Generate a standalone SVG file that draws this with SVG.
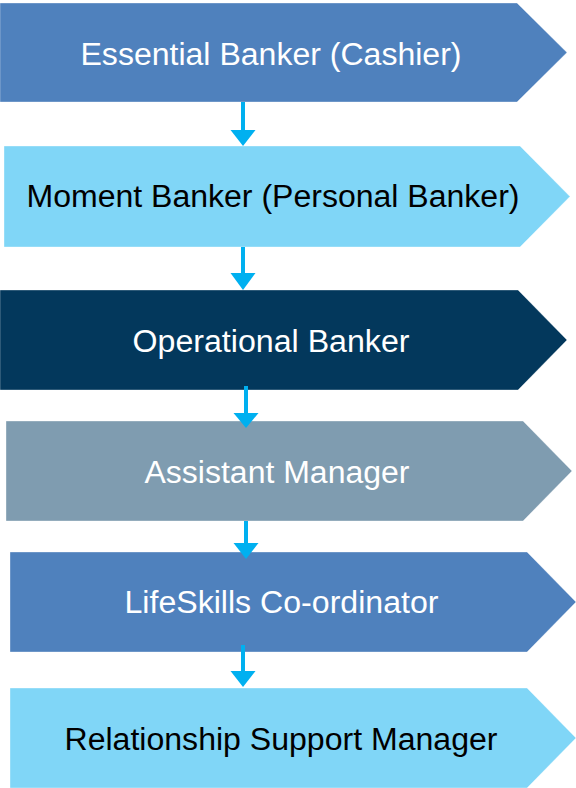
<svg xmlns="http://www.w3.org/2000/svg" width="576" height="788" viewBox="0 0 576 788">
<style>
.shape{stroke:#ffffff;stroke-opacity:0.35;stroke-width:1}
.blue{fill:#4F81BD}
.light{fill:#80D6F7}
.navy{fill:#03385C}
.grey{fill:#7F9CB0}
.lbl{font-family:"Liberation Sans",Arial,sans-serif;font-size:31px;text-anchor:middle}
.w{fill:#ffffff}
.k{fill:#000000}
.conn line{stroke:#00B0F0;stroke-width:4}
.conn polygon{fill:#00B0F0}
</style>
<rect width="576" height="788" fill="#ffffff"/>
<g id="node-essential-banker">
<polygon class="shape blue" points="0,3 517,3 567,52.5 517,102 0,102"/>
<text class="lbl w" x="271" y="65" textLength="381" lengthAdjust="spacingAndGlyphs">Essential Banker (Cashier)</text>
</g>
<g id="node-moment-banker">
<polygon class="shape light" points="4,146 520,146 570,196.5 520,247 4,247"/>
<text class="lbl k" x="273" y="207" textLength="493" lengthAdjust="spacingAndGlyphs">Moment Banker (Personal Banker)</text>
</g>
<g id="node-operational-banker">
<polygon class="shape navy" points="0,290 518,290 567,340 518,390 0,390"/>
<text class="lbl w" x="271" y="352" textLength="277" lengthAdjust="spacingAndGlyphs">Operational Banker</text>
</g>
<g id="node-assistant-manager">
<polygon class="shape grey" points="6,421 523,421 572,471 523,521 6,521"/>
<text class="lbl w" x="277" y="483" textLength="265" lengthAdjust="spacingAndGlyphs">Assistant Manager</text>
</g>
<g id="node-lifeskills">
<polygon class="shape blue" points="10,552 527,552 576,602 527,652 10,652"/>
<text class="lbl w" x="281.5" y="613" textLength="314" lengthAdjust="spacingAndGlyphs">LifeSkills Co-ordinator</text>
</g>
<g id="node-relationship-support">
<polygon class="shape light" points="10,688 527,688 576,738 527,788 10,788"/>
<text class="lbl k" x="281" y="750" textLength="433" lengthAdjust="spacingAndGlyphs">Relationship Support Manager</text>
</g>
<g id="connectors" class="conn">
<line x1="243" y1="102" x2="243" y2="131"/>
<polygon points="230.5,130 255.5,130 243,146"/>
<line x1="243" y1="247" x2="243" y2="274"/>
<polygon points="230.5,273 255.5,273 243,290"/>
<line x1="246" y1="386" x2="246" y2="414"/>
<polygon points="233.5,413 258.5,413 246,428"/>
<line x1="246" y1="521" x2="246" y2="544"/>
<polygon points="233.5,543 258.5,543 246,559"/>
<line x1="243" y1="645" x2="243" y2="672"/>
<polygon points="230.5,671 255.5,671 243,687"/>
</g>
</svg>
